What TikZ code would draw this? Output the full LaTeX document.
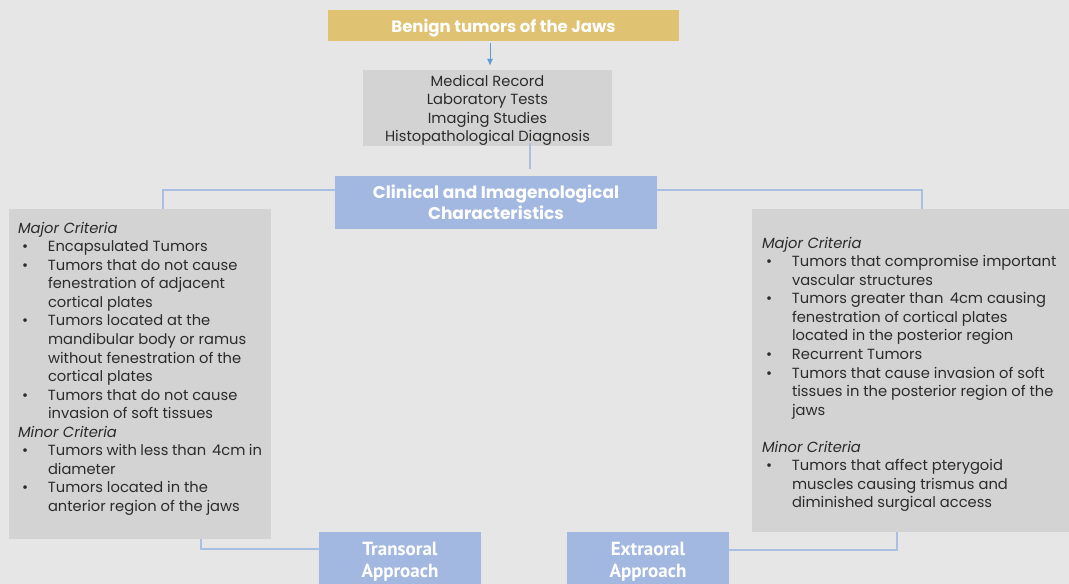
\documentclass[tikz,border=0pt]{standalone}
\usepackage{fontspec}
\usepackage{xcolor}
\usepackage{tikz}
\usetikzlibrary{positioning,arrows.meta,calc}

% geometric sans for the slide text, narrow bold for the approach boxes
\newfontfamily\gothic{Poppins}
\newfontfamily\narrowfont{PT Sans}

\definecolor{bgcol}{HTML}{E6E6E6}
\definecolor{boxgray}{HTML}{D3D3D3}
\definecolor{boxblue}{HTML}{A3B8E0}
\definecolor{boxgold}{HTML}{E0C273}
\definecolor{linkblue}{HTML}{A9C0E3}
\definecolor{arrowblue}{HTML}{5B9BD5}
\definecolor{txtdark}{HTML}{2B2B2B}

% bullet and hanging indent for the criteria lists
\newcommand{\bul}{\makebox[30pt][l]{\hspace{4pt}\textbullet}}
\newcommand{\ind}{\hspace*{30pt}}

\begin{document}
\begin{tikzpicture}[
  x=1pt, y=-1pt,
  headbox/.style={fill=boxgold, minimum width=351pt, minimum height=31pt, inner sep=0pt,
    text height=14pt, text depth=0pt,
    text=white, font=\gothic\bfseries\fontsize{16.5}{19}\selectfont},
  graybox/.style={fill=boxgray, inner sep=0pt, align=left, text=txtdark,
    font=\gothic\fontsize{14.7}{18.55}\selectfont},
  bluebox/.style={fill=boxblue, inner sep=0pt, align=center, text=white},
  link/.style={draw=linkblue, line width=1.5pt},
  arr/.style={-{Latex[length=7pt,width=6pt]}, draw=arrowblue, line width=1pt}
]
\fill[bgcol] (0,0) rectangle (1069,584);
\useasboundingbox (0,0) rectangle (1069,584);

\node[headbox] (title) at (503.5,25.5) {Benign tumors of the Jaws};
\node[graybox] (med) at (487.5,108) {\parbox[c][76pt][t]{249pt}{\centering
  \vspace*{5pt}%
  Medical Record\\Laboratory Tests\\Imaging Studies\\Histopathological Diagnosis}};
\node[bluebox, minimum width=322pt, minimum height=53pt,
  font=\gothic\bfseries\fontsize{17}{21}\selectfont] (clin) at (496,202.5)
  {Clinical and Imagenological\\Characteristics};

\node[graybox, inner xsep=9pt] (leftbox) at (140,374) {\parbox[t][330pt][t]{244pt}{%
  \vspace*{13pt}%
  {\itshape Major Criteria}\\
  \bul Encapsulated Tumors\\
  \bul Tumors that do not cause\\
  \ind fenestration of adjacent\\
  \ind cortical plates\\
  \bul Tumors located at the\\
  \ind mandibular body or ramus\\
  \ind without fenestration of the\\
  \ind cortical plates\\
  \bul Tumors that do not cause\\
  \ind invasion of soft tissues\\
  {\itshape Minor Criteria}\\
  \bul Tumors with less than\, 4cm in\\
  \ind diameter\\
  \bul Tumors located in the\\
  \ind anterior region of the jaws}};

\node[graybox, inner xsep=10pt] (rightbox) at (913.5,370.5) {\parbox[t][323pt][t]{303pt}{%
  \vspace*{28pt}%
  {\itshape Major Criteria}\\
  \bul Tumors that compromise important\\
  \ind vascular structures\\
  \bul Tumors greater than\, 4cm causing\\
  \ind fenestration of cortical plates\\
  \ind located in the posterior region\\
  \bul Recurrent Tumors\\
  \bul Tumors that cause invasion of soft\\
  \ind tissues in the posterior region of the\\
  \ind jaws\\[18.55pt]
  {\itshape Minor Criteria}\\
  \bul Tumors that affect pterygoid\\
  \ind muscles causing trismus and\\
  \ind diminished surgical access}};

\node[bluebox, minimum width=162pt, minimum height=60pt,
  font=\narrowfont\bfseries\fontsize{19}{22}\selectfont] (trans) at (400,562)
  {Transoral\\Approach};
\node[bluebox, minimum width=162pt, minimum height=60pt,
  font=\narrowfont\bfseries\fontsize{19}{22}\selectfont] (extra) at (648,562)
  {Extraoral\\Approach};

% connectors
\draw[arr] ([xshift=-13.5pt,yshift=-2pt]title.south) -- ([xshift=2.5pt,yshift=4pt]med.north);
\draw[link] ([xshift=42.5pt,yshift=3pt]med.south) -- ([xshift=34pt,yshift=7pt]clin.north);
\draw[link] ([yshift=12.5pt]clin.west) -| ([xshift=23pt]leftbox.north);
\draw[link] ([yshift=12.5pt]clin.east) -| ([xshift=8.5pt]rightbox.north);
\draw[link] ([xshift=61pt]leftbox.south) |- ([yshift=13pt]trans.west);
\draw[link] ([xshift=-16.5pt]rightbox.south) |- ([yshift=12pt]extra.east);
\end{tikzpicture}
\end{document}
